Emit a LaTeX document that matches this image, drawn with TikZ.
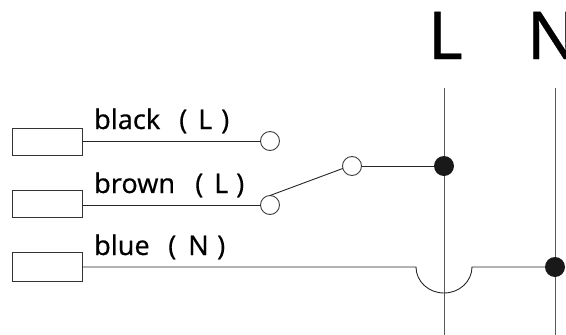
\documentclass[tikz,border=0pt]{standalone}
\usepackage{fontspec}
\setmainfont[FakeBold=0.25]{Noto Sans}
\newfontfamily\bigfont[FakeBold=0.5]{Noto Sans}
\begin{document}
\begin{tikzpicture}[x=1pt,y=-1pt,
  wire/.style={line width=0.9pt,draw=black!85},
  bus/.style={line width=1pt,draw=black!65},
  plug/.style={draw=black!80,line width=0.9pt,fill=white,minimum width=70pt,inner sep=0pt,outer sep=0pt},
  term/.style={circle,draw=black!75,line width=0.9pt,fill=white,minimum size=19pt,inner sep=0pt,outer sep=0pt},
  joint/.style={circle,fill=black!90,minimum size=20pt,inner sep=0pt,outer sep=0pt},
  lab/.style={anchor=base west,inner sep=0pt,font=\fontsize{27}{27}\selectfont},
  big/.style={anchor=base west,inner sep=0pt,font=\bigfont\fontsize{66}{66}\selectfont}]
\path[use as bounding box] (0,0) rectangle (566,335);
\clip (0,0) rectangle (566,335);
\coordinate (Ltop) at (444,88);
\coordinate (Lbot) at (444,335);
\coordinate (Ntop) at (555,88);
\coordinate (Nbot) at (555,335);
\coordinate (arcL) at (416,267);
\coordinate (arcR) at (472,267);
\node[plug,minimum height=27pt] (p1) at (47,141.5) {};
\node[plug,minimum height=27pt] (p2) at (47,203.5) {};
\node[plug,minimum height=29pt] (p3) at (47,266.5) {};
\node[term] (t1) at (270,141) {};
\node[term] (t2) at (270,205) {};
\node[term] (t3) at (352,166) {};
\node[joint] (j1) at (444,166) {};
\node[joint] (j2) at (555,267) {};
\draw[bus] (Ltop) -- (j1);
\draw[bus] (j1) -- (Lbot);
\draw[bus] (Ntop) -- (j2);
\draw[bus] (j2) -- (Nbot);
\draw[wire] (p1.east |- t1) -- (t1.west);
\draw[wire] (p2.east |- t2) -- (t2.west);
\draw[wire] (t2.north) -- (t3.195);
\draw[wire] (t3.east) -- (j1.west);
\draw[wire] (p3.east |- arcL) -- (arcL) arc[start angle=180,end angle=360,x radius=28,y radius=-26] -- (arcR) -- (j2.west);
\node[lab] at (94,129) {black};
\node[lab] at (179,129) {(};
\node[lab] at (198,129) {L};
\node[lab] at (221,129) {)};
\node[lab] at (94,193) {brown};
\node[lab] at (195,193) {(};
\node[lab] at (214,193) {L};
\node[lab] at (236,193) {)};
\node[lab] at (94,255) {blue};
\node[lab] at (168,255) {(};
\node[lab] at (188,255) {N};
\node[lab] at (217,255) {)};
\node[big] (L) at (428,59) {L};
\node[big] (N) at (527,59) {N};
\end{tikzpicture}
\end{document}
